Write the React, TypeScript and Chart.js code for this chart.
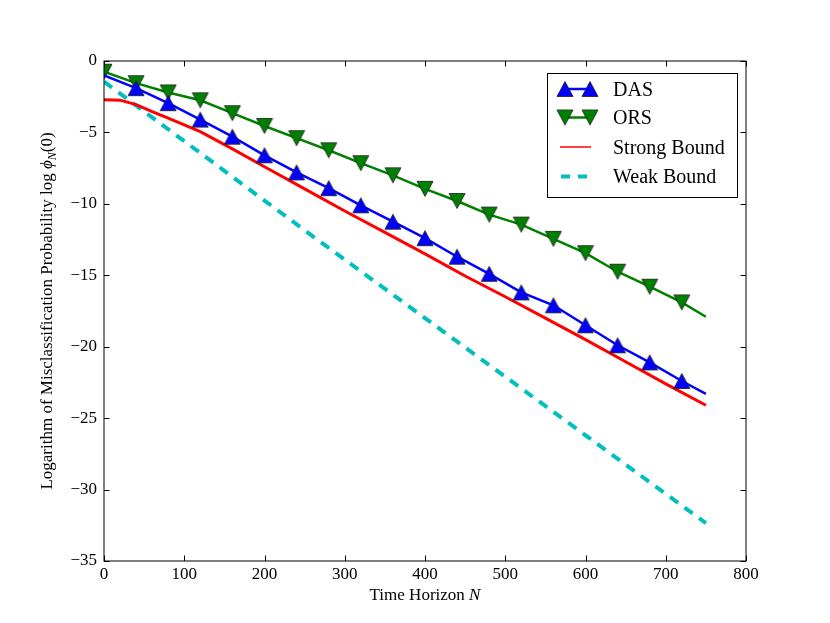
import React, { useEffect, useRef } from 'react';
import { Chart, registerables } from 'chart.js';

Chart.register(...registerables);

// values
const dasN = [0, 40, 80, 120, 160, 200, 240, 280, 320, 360, 400, 440, 480, 520, 560, 600, 640, 680, 720, 750];
const dasVal = [-1.0, -1.9, -2.95, -4.1, -5.3, -6.6, -7.8, -8.9, -10.1, -11.25, -12.4, -13.7, -14.9, -16.2, -17.1, -18.5, -19.9, -21.1, -22.4, -23.3];

const orsN = [0, 40, 80, 120, 160, 200, 240, 280, 320, 360, 400, 440, 480, 520, 560, 600, 640, 680, 720, 750];
const orsVal = [-0.75, -1.55, -2.2, -2.75, -3.65, -4.55, -5.4, -6.25, -7.15, -8.0, -8.95, -9.8, -10.75, -11.45, -12.45, -13.45, -14.75, -15.8, -16.9, -17.9];

const strongN = [0, 20, 40, 60, 80, 120, 160, 200, 250, 300, 350, 400, 450, 500, 550, 600, 650, 700, 750];
const strongVal = [-2.72, -2.74, -3.05, -3.55, -4.0, -4.95, -6.15, -7.4, -8.95, -10.5, -12.0, -13.5, -15.05, -16.5, -18.0, -19.5, -21.05, -22.6, -24.1];

const weakN = [0, 250, 500, 750];
const weakVal = [-1.45, -11.85, -22.1, -32.35];

const xTicks = [0, 100, 200, 300, 400, 500, 600, 700, 800];
const yTicks = [0, -5, -10, -15, -20, -25, -30, -35];

const legendLabels = ['DAS', 'ORS', 'Strong Bound', 'Weak Bound'];

const FONT = "'Liberation Serif', 'Times New Roman', serif";
const BLUE = '#0000ff';
const GREEN = '#008000';
const RED = '#ff0000';
const CYAN = '#00bfbf';

function makeMarker(fill: string, down: boolean): HTMLCanvasElement {
  const c = document.createElement('canvas');
  c.width = 18;
  c.height = 18;
  const g = c.getContext('2d')!;
  g.beginPath();
  if (down) {
    g.moveTo(1, 1.5);
    g.lineTo(17, 1.5);
    g.lineTo(9, 16.5);
  } else {
    g.moveTo(9, 1.5);
    g.lineTo(17, 16.5);
    g.lineTo(1, 16.5);
  }
  g.closePath();
  g.fillStyle = fill;
  g.fill();
  g.lineWidth = 0.8;
  g.strokeStyle = '#1a1a1a';
  g.stroke();
  return c;
}

type Seg = { t: string; font: string; dy?: number };

function drawSegs(ctx: CanvasRenderingContext2D, segs: Seg[], cx: number, y: number) {
  const widths = segs.map((s) => {
    ctx.font = s.font;
    return ctx.measureText(s.t).width;
  });
  let x = cx - widths.reduce((a, b) => a + b, 0) / 2;
  segs.forEach((s, i) => {
    ctx.font = s.font;
    ctx.fillText(s.t, x, y + (s.dy || 0));
    x += widths[i];
  });
}

const App: React.FC = () => {
  const chartRef = useRef<HTMLCanvasElement | null>(null);
  const chartInstance = useRef<Chart | null>(null);

  useEffect(() => {
    document.body.style.margin = '0';
    if (!chartRef.current) return;
    if (chartInstance.current) chartInstance.current.destroy();

    const upMarker = makeMarker(BLUE, false);
    const downMarker = makeMarker(GREEN, true);

    // frame, inward ticks, axis titles and the legend box
    const decorations = {
      id: 'decorations',
      afterDraw(chart: Chart) {
        const ctx = chart.ctx;
        const { left, right, top, bottom } = chart.chartArea;
        const xs = chart.scales.x;
        const ys = chart.scales.y;
        ctx.save();
        ctx.strokeStyle = '#000';
        ctx.lineWidth = 1;
        ctx.strokeRect(left, top, right - left, bottom - top);
        ctx.beginPath();
        xTicks.forEach((v) => {
          const px = Math.round(xs.getPixelForValue(v)) + 0.5;
          ctx.moveTo(px, bottom);
          ctx.lineTo(px, bottom - 5.5);
          ctx.moveTo(px, top);
          ctx.lineTo(px, top + 5.5);
        });
        yTicks.forEach((v) => {
          const py = Math.round(ys.getPixelForValue(v)) + 0.5;
          ctx.moveTo(left, py);
          ctx.lineTo(left + 5.5, py);
          ctx.moveTo(right, py);
          ctx.lineTo(right - 5.5, py);
        });
        ctx.stroke();

        // axis titles
        ctx.fillStyle = '#000';
        ctx.textAlign = 'left';
        ctx.textBaseline = 'alphabetic';
        drawSegs(ctx, [
          { t: 'Time Horizon ', font: `17px ${FONT}` },
          { t: 'N', font: `italic 17px ${FONT}` },
        ], (left + right) / 2, 600);

        ctx.save();
        ctx.translate(52, (top + bottom) / 2);
        ctx.rotate(-Math.PI / 2);
        drawSegs(ctx, [
          { t: 'Logarithm of Misclassification Probability log ', font: `17px ${FONT}` },
          { t: '\u03D5', font: `italic 17px ${FONT}` },
          { t: 'N', font: `italic 12px ${FONT}`, dy: 3.5 },
          { t: '(0)', font: `17px ${FONT}` },
        ], 0, 0);
        ctx.restore();

        // legend
        const bx = right - 199;
        const by = top + 12;
        const bw = 190;
        const bh = 124;
        ctx.fillStyle = '#fff';
        ctx.fillRect(bx, by, bw, bh);
        ctx.strokeStyle = '#000';
        ctx.lineWidth = 1;
        ctx.strokeRect(bx + 0.5, by + 0.5, bw, bh);

        const rows = [by + 16, by + 44.5, by + 74, by + 103.5];
        const h0 = bx + 18;
        const h1 = bx + 43;
        ctx.lineCap = 'butt';
        // DAS
        ctx.strokeStyle = BLUE;
        ctx.lineWidth = 2.5;
        ctx.beginPath();
        ctx.moveTo(h0, rows[0]);
        ctx.lineTo(h1, rows[0]);
        ctx.stroke();
        ctx.drawImage(upMarker, h0 - 9, rows[0] - 9);
        ctx.drawImage(upMarker, h1 - 9, rows[0] - 9);
        // ORS
        ctx.strokeStyle = GREEN;
        ctx.beginPath();
        ctx.moveTo(h0, rows[1]);
        ctx.lineTo(h1, rows[1]);
        ctx.stroke();
        ctx.drawImage(downMarker, h0 - 9, rows[1] - 9);
        ctx.drawImage(downMarker, h1 - 9, rows[1] - 9);
        // Strong
        ctx.strokeStyle = RED;
        ctx.lineWidth = 1.5;
        ctx.beginPath();
        ctx.moveTo(bx + 13, rows[2]);
        ctx.lineTo(bx + 44, rows[2]);
        ctx.stroke();
        // Weak
        ctx.strokeStyle = CYAN;
        ctx.lineWidth = 4;
        ctx.setLineDash([9, 8]);
        ctx.beginPath();
        ctx.moveTo(bx + 14, rows[3]);
        ctx.lineTo(bx + 45, rows[3]);
        ctx.stroke();
        ctx.setLineDash([]);

        ctx.fillStyle = '#000';
        ctx.font = `20px ${FONT}`;
        legendLabels.forEach((lab, i) => {
          ctx.fillText(lab, bx + 66, rows[i] + 6.6);
        });
        ctx.restore();
      },
    };

    const markEvery = (ns: number[], withZero: boolean) => (c: any) => {
      const n = ns[c.dataIndex];
      if (n === undefined) return 0;
      return n % 40 === 0 && n <= 720 && (withZero || n > 0) ? 9 : 0;
    };

    chartInstance.current = new Chart(chartRef.current, {
      type: 'line',
      data: {
        datasets: [
          {
            label: 'Weak Bound',
            data: weakN.map((n, i) => ({ x: n, y: weakVal[i] })),
            borderColor: CYAN,
            borderWidth: 4,
            borderDash: [10, 8],
            pointRadius: 0,
            order: 4,
          },
          {
            label: 'Strong Bound',
            data: strongN.map((n, i) => ({ x: n, y: strongVal[i] })),
            borderColor: RED,
            borderWidth: 3,
            pointRadius: 0,
            order: 3,
          },
          {
            label: 'ORS',
            data: orsN.map((n, i) => ({ x: n, y: orsVal[i] })),
            borderColor: GREEN,
            borderWidth: 2.5,
            pointStyle: downMarker,
            pointRadius: markEvery(orsN, true),
            order: 2,
          },
          {
            label: 'DAS',
            data: dasN.map((n, i) => ({ x: n, y: dasVal[i] })),
            borderColor: BLUE,
            borderWidth: 2.5,
            pointStyle: upMarker,
            pointRadius: markEvery(dasN, false),
            order: 1,
          },
        ],
      },
      options: {
        responsive: false,
        animation: false,
        layout: { padding: { left: 0, top: 61, right: 84, bottom: 0 } },
        plugins: {
          legend: { display: false },
          tooltip: { enabled: false },
        },
        elements: { line: { tension: 0 } },
        scales: {
          x: {
            type: 'linear',
            min: 0,
            max: 800,
            grid: { display: false, drawTicks: false },
            border: { display: false },
            ticks: {
              stepSize: 100,
              autoSkip: false,
              maxRotation: 0,
              padding: 3,
              color: '#000',
              font: { family: FONT, size: 17 },
            },
            afterFit: (scale: any) => {
              scale.height = 62;
            },
          },
          y: {
            type: 'linear',
            min: -35,
            max: 0,
            grid: { display: false, drawTicks: false },
            border: { display: false },
            ticks: {
              stepSize: 5,
              padding: 7,
              color: '#000',
              font: { family: FONT, size: 17 },
              callback: (v: any) => (Number(v) < 0 ? '\u2212' + Math.abs(Number(v)) : String(v)),
            },
            afterFit: (scale: any) => {
              scale.width = 104;
            },
          },
        },
      },
      plugins: [decorations],
    });

    return () => {
      if (chartInstance.current) {
        chartInstance.current.destroy();
        chartInstance.current = null;
      }
    };
  }, []);

  return (
    <div style={{ width: 830, height: 623 }}>
      <canvas ref={chartRef} width={830} height={623} />
    </div>
  );
};

export default App;
